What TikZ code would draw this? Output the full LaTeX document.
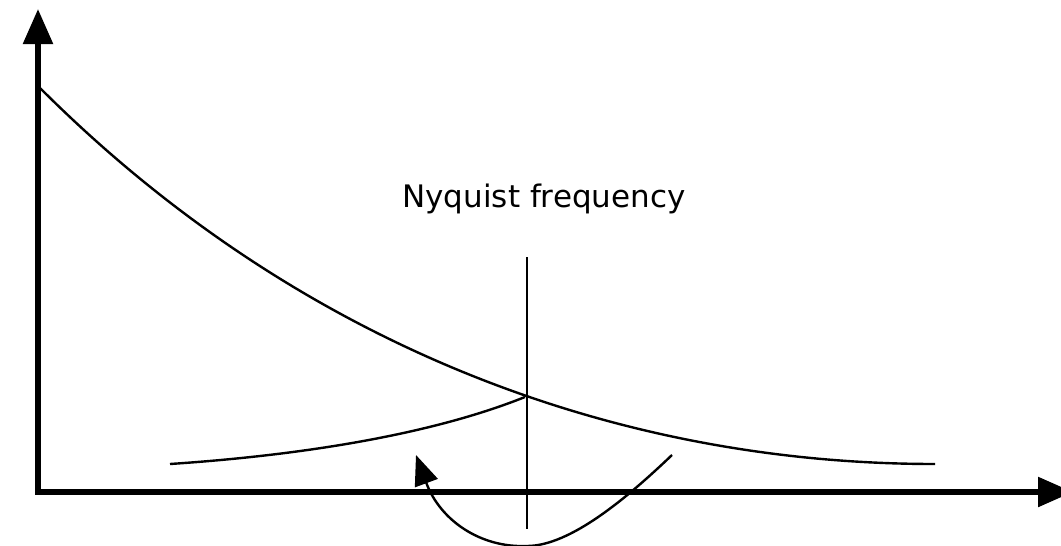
\documentclass[tikz,border=0pt]{standalone}
\usepackage{fontspec}
\setmainfont{DejaVu Sans}
\usetikzlibrary{arrows.meta}

\begin{document}
\begin{tikzpicture}[x=1pt, y=-1pt,
  axis/.style={line width=5.5pt, line join=miter,
    {Triangle[length=35pt,width=29pt]}-{Triangle[length=35pt,width=29pt]}},
  curve/.style={line width=2.4pt},
  fold/.style={line width=2.4pt, -{Triangle[length=30pt,width=24pt]}}]
\useasboundingbox (0,0) rectangle (1061,546);
% axes
\coordinate (ytip) at (38,9);
\coordinate (O) at (38,492);
\coordinate (xtip) at (1073,492);
\draw[axis] (ytip) -- (O) -- (xtip);
% spectrum and its folded copy
\coordinate (specstart) at (40,88);
\coordinate (specend) at (935,464);
\draw[curve] (specstart) .. controls (290,338) and (605,464) .. (specend);
\coordinate (aliasstart) at (170,464);
\coordinate (aliasend) at (525,397);
\draw[curve] (aliasstart) .. controls (290,456) and (425,437) .. (aliasend);
% Nyquist frequency
\coordinate (nyqtop) at (527,257);
\coordinate (nyqbot) at (527,529);
\draw[curve] (nyqtop) -- (nyqbot);
\node[font=\fontsize{31}{37}\selectfont, anchor=base] (nyq) at (544,207) {Nyquist frequency};
% folding arrow
\coordinate (foldstart) at (672,455);
\coordinate (foldtip) at (416,455);
\draw[fold] (foldstart) .. controls (627,498) and (570,546) .. (527,546)
  .. controls (480,548) and (440,520) .. (foldtip);
\end{tikzpicture}
\end{document}
